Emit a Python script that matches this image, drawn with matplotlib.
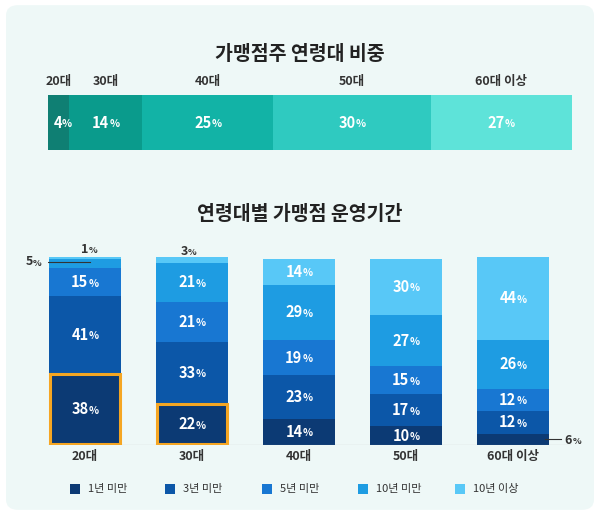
import matplotlib
matplotlib.use('Agg')
import matplotlib.pyplot as plt
from matplotlib.patches import FancyBboxPatch, Rectangle
import numpy as np

plt.rcParams['font.family'] = ['Noto Sans CJK KR', 'DejaVu Sans']

age_groups = ['20대', '30대', '40대', '50대', '60대 이상']
age_share = [4, 14, 25, 30, 27]
age_colors = ['#0f7f73', '#0a9b8c', '#12b3a6', '#2fcac0', '#5ee3d9']

periods = ['1년 미만', '3년 미만', '5년 미만', '10년 미만', '10년 이상']
period_values = {
    '20대': [38, 41, 15, 5, 1],
    '30대': [22, 33, 21, 21, 3],
    '40대': [14, 23, 19, 29, 14],
    '50대': [10, 17, 15, 27, 30],
    '60대 이상': [6, 12, 12, 26, 44],
}
period_colors = ['#0c3a74', '#0c57a8', '#1877d2', '#1e9ce2', '#58c8f7']

fig = plt.figure(figsize=(6, 5.15), dpi=100)
fig.patch.set_facecolor('white')
bg = FancyBboxPatch((0.01, 0.01), 0.98, 0.98, boxstyle='round,pad=0,rounding_size=0.02',
                    transform=fig.transFigure, facecolor='#eef8f7', edgecolor='none', zorder=-10)
fig.patches.append(bg)

def pct(ax, x, y, v, color='white', size=11, small=7.5, transform=None):
    tr = transform or ax.transData
    s = str(v)
    ax.annotate(s, (x, y), xycoords=tr, xytext=(2.5, 0), textcoords='offset points',
                ha='right', va='center', fontsize=size, color=color, fontweight='semibold')
    ax.annotate('%', (x, y), xycoords=tr, xytext=(2.6, -1), textcoords='offset points',
                ha='left', va='center', fontsize=small, color=color, fontweight='semibold')

fig.text(0.5, 1 - 55/515, '가맹점주 연령대 비중', ha='center', va='center', fontsize=14, fontweight='bold', color='#222222')
ax1 = fig.add_axes([48/600, 1 - 150/515, 524/600, 55/515])
left = 0
for g, v, c in zip(age_groups, age_share, age_colors):
    ax1.barh(0, v, left=left, height=1, color=c, edgecolor='none')
    pct(ax1, left + v/2, 0, v, size=10.5)
    ax1.text(left + v/2, 0.75, g, ha='center', va='center', fontsize=9, fontweight='bold', color='#333333')
    left += v
ax1.set_xlim(0, sum(age_share)); ax1.set_ylim(-0.5, 0.5)
ax1.axis('off')

fig.text(0.5, 1 - 215/515, '연령대별 가맹점 운영기간', ha='center', va='center', fontsize=14, fontweight='bold', color='#222222')
ax2 = fig.add_axes([48/600, 1 - 445/515, 524/600, 188/515])
x = np.arange(len(age_groups))
w = 0.67
for i, g in enumerate(age_groups):
    bottom = 0
    vals = period_values[g]
    for j, (v, c) in enumerate(zip(vals, period_colors)):
        ax2.bar(i, v, bottom=bottom, width=w, color=c, edgecolor='none')
        if j == 0 and i < 2:
            ax2.add_patch(Rectangle((i - w/2 + 0.01, bottom + 0.4), w - 0.02, v - 0.8, fill=False,
                                    edgecolor='#f5a623', linewidth=2.2, zorder=5))
        if v >= 10:
            pct(ax2, i, bottom + v/2, v, size=10.5)
        bottom += v
ax2.set_xlim(-(85-48)/107, (572-85)/107)
ax2.set_ylim(0, 100)
ax2.axis('off')
dark = '#333333'
pct(ax2, 0, 104, 1, color=dark, size=9, small=6.5)
ax2.plot([0, 0], [100.5, 102], color=dark, lw=0.8)
ax2.plot([-0.42, 0.05], [97.5, 97.5], color=dark, lw=0.8)
pct(ax2, -0.52, 97.5, 5, color=dark, size=9, small=6.5)
pct(ax2, 1 - 0.07, 103, 3, color=dark, size=9, small=6.5)
ax2.plot([4.3, 4.45], [3, 3], color=dark, lw=0.8)
pct(ax2, 4.52, 2.5, 6, color=dark, size=9, small=6.5)
for i, g in enumerate(age_groups):
    ax2.text(i, -6, g, ha='center', va='center', fontsize=9, fontweight='bold', color=dark)
ax2.plot([-0.36, 4.55], [0, 0], color='#999999', lw=0.8)

lx = [70, 165, 262, 358, 455]
for px, lab, c in zip(lx, periods, period_colors):
    fig.patches.append(Rectangle((px/600, 1 - 494/515), 10/600, 10/515, transform=fig.transFigure,
                                 facecolor=c, edgecolor='none'))
    fig.text((px + 18)/600, 1 - 489/515, lab, ha='left', va='center', fontsize=8, color=dark)

fig.savefig('out.png', dpi=100, facecolor=fig.get_facecolor())
